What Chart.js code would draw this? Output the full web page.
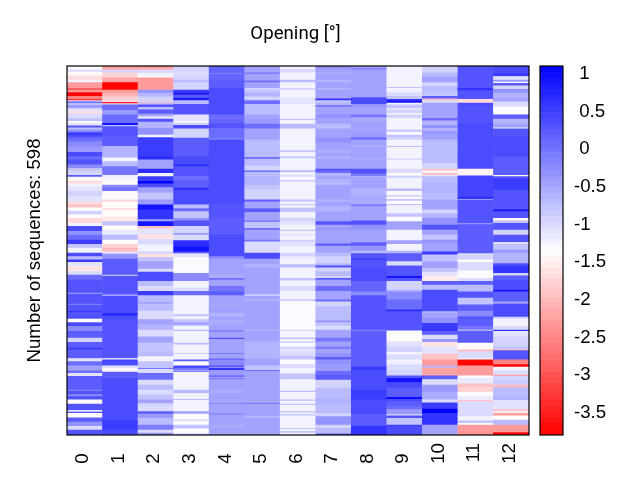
<!DOCTYPE html>
<html>
<head>
<meta charset="utf-8">
<title>Opening</title>
<script src="https://cdn.jsdelivr.net/npm/chart.js@4/dist/chart.umd.js"></script>
<style>
  html, body { margin: 0; background: #fff; }
  canvas { position: absolute; left: 0; top: 0; }
</style>
</head>
<body>
<canvas id="heat" width="640" height="480"></canvas>
<canvas id="bar" width="640" height="480"></canvas>
<script>
// columns of the heatmap
const categories = ['0', '1', '2', '3', '4', '5', '6', '7', '8', '9', '10', '11', '12'];
const sequenceCount = 598;
const colorMin = -3.795;
const colorMax = 1.103;
const colorLevels = 64;
const colorTicks = [1, 0.5, 0, -0.5, -1, -1.5, -2, -2.5, -3, -3.5];

const col0 = [[6,-1.3],[10,-1.0],[16,-1.4],[23,-1.7],[27,-1.2],[37,-2.3],[39,-3.2],[43,-2.3],[49,-3.8],[54,-2.5],[56,-3.3],[58,-1.0],[60,0.2],[64,-0.7],[68,-0.3],[71,-0.9],[74,-1.1],[77,-1.7],[85,-1.0],[90,-0.8],[93,-1.3],[97,-1.1],[100,0.3],[104,-0.7],[108,-0.2],[113,0.5],[117,0.3],[123,0.1],[131,-0.2],[140,-0.4],[147,0.4],[152,0.1],[160,0.3],[166,-0.2],[170,-0.8],[177,-0.9],[180,0.2],[186,-1.3],[191,-1.7],[196,-1.25],[203,-1.05],[212,-0.9],[220,-1.1],[225,-1.7],[230,-1.9],[235,-1.35],[241,-0.9],[247,-1.35],[255,-1.7],[260,-1.2],[268,0.4],[274,-0.3],[282,0.1],[289,0.5],[295,-0.8],[303,-1.25],[309,0.4],[314,-0.7],[318,0.5],[325,-1.1],[333,-1.6],[339,-1.0],[347,0.1],[368,0.3],[370,-0.3],[386,0.3],[388,-0.1],[397,0.3],[399,0.5],[410,0.3],[416,-1.37],[422,0.4],[430,-0.2],[441,0.2],[448,-0.9],[457,0.25],[460,0.5],[474,0.2],[479,-1.1],[486,0.1],[494,-0.5],[498,0.1],[503,-1.1],[525,0.2],[527,-0.2],[533,0.3],[535,-0.5],[541,0.3],[548,-1.37],[558,0.3],[561,-1.1],[563,0.3],[570,-1.37],[577,0.2],[584,-0.3],[590,-1.0],[598,0.3]];
const col1 = [[6,-2.2],[11,-0.9],[19,-1.8],[27,-2.2],[39,-3.8],[44,-2.3],[50,-2.1],[58,-1.8],[59,-1.2],[61,-3.5],[63,-1.1],[72,0.1],[79,-0.4],[93,0.1],[96,0.9],[98,-0.7],[114,0.3],[130,0.25],[149,-0.6],[155,-1.25],[163,-0.7],[177,0.0],[185,-1.2],[193,-1.35],[197,-0.2],[203,0.0],[217,-1.37],[221,-1.7],[231,-1.37],[233,-1.8],[244,-1.37],[252,-1.55],[259,-0.8],[266,-1.37],[274,-1.15],[282,-0.7],[289,-1.37],[295,-1.8],[301,-2.0],[305,-1.1],[313,-0.3],[339,0.2],[341,-0.7],[371,0.3],[373,-0.7],[401,0.35],[406,0.7],[413,0.4],[474,0.3],[476,-1.37],[478,0.6],[486,0.4],[490,-1.1],[496,-1.37],[506,0.2],[541,0.4],[574,0.35],[590,0.5],[598,0.4]];
const col2 = [[6,-2.25],[12,-1.0],[17,-1.2],[19,-1.37],[39,-2.3],[44,-0.3],[50,-0.6],[58,-0.9],[60,-1.9],[63,-0.7],[67,0.3],[71,-0.7],[78,0.2],[82,-0.5],[86,-1.1],[91,0.3],[101,-0.6],[112,-0.3],[116,-1.2],[147,0.5],[152,0.7],[167,-0.5],[174,0.7],[179,-1.2],[187,0.5],[191,1.05],[197,0.4],[206,-0.5],[217,-0.8],[225,-0.4],[233,0.9],[249,0.6],[252,-0.5],[260,0.9],[264,-1.9],[274,-1.1],[281,-1.6],[290,-1.0],[301,-1.2],[305,-0.9],[310,-1.6],[317,-0.8],[329,-0.5],[334,-1.0],[349,0.4],[357,-0.7],[365,-1.0],[372,0.5],[383,-0.7],[386,-0.45],[397,-0.7],[403,-1.0],[411,-1.0],[419,-0.5],[428,-0.6],[439,-1.0],[449,-0.5],[463,-0.8],[471,-0.7],[479,-1.2],[490,-0.8],[491,0.3],[498,-1.0],[509,0.1],[517,-1.0],[525,-0.7],[533,-1.0],[541,-0.8],[547,-0.5],[552,-0.9],[560,-1.0],[564,0.2],[571,-0.4],[582,-0.7],[590,-0.1],[595,-1.0],[598,-0.3]];
const col3 = [[9,-0.9],[16,-1.0],[23,-0.9],[27,-0.7],[39,-0.9],[44,0.5],[47,0.8],[52,0.2],[56,0.8],[62,-0.7],[79,0.3],[90,-1.1],[92,-1.37],[96,-0.9],[102,0.4],[117,-0.9],[147,0.2],[160,0.4],[162,0.8],[179,0.3],[185,0.1],[198,0.2],[201,0.7],[209,0.4],[225,0.4],[231,-0.7],[236,0.1],[247,-0.8],[251,-0.3],[260,0.3],[271,-0.9],[274,-0.4],[283,-1.0],[293,0.7],[301,0.9],[304,0.3],[310,-1.1],[322,-1.3],[336,-1.3],[349,-0.2],[360,-1.25],[365,-1.0],[372,0.1],[403,-1.25],[406,-0.8],[411,-1.25],[416,-0.8],[421,-0.5],[428,-1.25],[430,-0.7],[449,-1.25],[452,-0.7],[466,-1.25],[467,-0.7],[476,-1.25],[479,0.2],[486,-1.3],[490,0.4],[493,0.0],[494,-1.37],[496,0.3],[525,-1.25],[531,-0.7],[540,-1.25],[542,-0.7],[560,-1.25],[564,-0.5],[574,-1.3],[575,-0.7],[582,-1.3],[588,-0.8],[596,-1.35],[598,-0.8]];
const col4 = [[12,0.15],[13,-0.2],[23,0.15],[36,0.2],[60,0.35],[79,0.35],[87,0.05],[93,0.15],[101,0.3],[117,0.1],[120,-0.1],[201,0.4],[223,0.4],[247,0.3],[263,0.25],[274,0.2],[295,0.35],[309,0.4],[313,-0.2],[339,-0.45],[344,-0.55],[347,0.1],[357,-0.45],[366,0.0],[372,0.2],[388,-0.45],[389,-0.6],[401,-0.45],[406,-0.6],[412,-0.45],[420,-0.55],[429,-0.45],[431,0.1],[441,-0.45],[443,0.3],[466,-0.45],[467,0.3],[474,-0.45],[477,0.1],[486,-0.2],[488,0.4],[490,-0.2],[493,0.6],[502,-0.4],[504,0.3],[507,-0.5],[508,0.3],[525,-0.45],[531,-0.55],[547,-0.45],[548,0.1],[564,-0.45],[565,0.3],[582,-0.45],[587,-0.55],[598,-0.45]];
const col5 = [[11,-0.45],[13,0.0],[24,-0.45],[27,0.1],[36,-0.45],[39,-0.9],[43,-0.8],[50,-0.6],[56,-0.9],[62,0.1],[79,-0.7],[86,-0.45],[94,-0.4],[102,0.1],[120,-0.45],[148,-0.7],[151,0.1],[162,-0.7],[170,-0.9],[172,0.2],[179,-0.7],[193,-0.6],[201,-0.8],[217,-0.9],[220,0.2],[231,-0.5],[237,0.2],[251,-0.45],[253,0.1],[263,-0.8],[266,0.1],[282,-0.45],[285,0.0],[303,-1.0],[313,0.4],[322,-0.45],[327,-0.6],[371,-0.45],[373,-1.0],[379,-0.45],[381,-0.7],[428,-0.45],[429,-0.7],[447,-0.45],[474,-0.6],[486,-0.5],[493,-0.8],[495,0.1],[547,-0.45],[548,0.3],[568,-0.45],[570,-0.7],[587,-0.45],[598,-0.5]];
const col6 = [[5,-1.25],[11,-1.0],[23,-1.25],[27,-0.7],[36,-1.25],[39,-0.9],[52,-1.25],[62,-1.05],[86,-1.25],[88,-0.8],[94,-1.25],[102,-0.7],[137,-1.25],[140,-0.8],[147,-1.25],[150,-0.8],[170,-1.25],[172,-0.5],[177,-1.25],[180,-1.0],[185,-1.3],[188,-0.9],[217,-1.25],[220,-0.8],[224,-1.25],[227,-0.9],[230,-1.3],[237,-0.8],[247,-1.25],[252,-0.9],[258,-1.1],[266,-1.25],[268,-0.8],[274,-1.25],[275,-0.7],[282,-1.25],[286,-0.9],[293,-1.1],[303,-1.25],[309,-0.9],[314,-1.15],[322,-1.25],[327,-0.7],[344,-1.25],[348,-0.8],[357,-1.25],[365,-1.0],[379,-1.25],[381,-0.7],[428,-1.28],[429,-0.8],[441,-1.25],[443,-0.7],[447,-1.25],[449,-0.8],[455,-1.3],[460,-0.9],[462,-1.25],[470,-1.0],[476,-0.8],[484,-1.3],[490,-1.0],[499,-1.25],[508,-0.8],[527,-1.25],[529,-0.7],[541,-1.25],[543,-0.7],[548,-1.25],[550,-0.8],[560,-1.25],[562,-0.7],[565,-1.25],[567,-0.7],[587,-1.25],[589,-0.8],[592,-1.25],[595,-0.8],[598,-1.25]];
const col7 = [[5,-0.3],[11,-0.45],[13,-0.6],[23,-0.45],[27,-0.6],[36,-0.45],[39,-0.6],[53,-0.45],[56,0.6],[60,-0.8],[64,-0.6],[66,0.2],[79,-0.45],[85,-0.3],[94,-0.45],[102,-0.7],[117,-0.45],[125,-0.35],[137,-0.45],[141,-0.55],[147,-0.45],[151,-0.6],[167,-0.45],[170,0.3],[174,0.1],[179,-0.6],[184,-0.45],[190,-0.6],[193,-0.7],[217,-0.45],[220,-0.6],[228,-0.45],[236,-0.65],[252,-0.45],[258,0.3],[263,-0.5],[266,-0.3],[288,-0.45],[292,0.2],[303,-0.45],[309,-0.7],[320,-0.9],[324,-0.6],[327,0.3],[333,-0.9],[341,-0.7],[344,-0.9],[347,0.2],[349,-0.5],[357,-0.45],[365,0.1],[379,-0.45],[382,0.1],[390,-0.9],[403,-0.7],[413,-0.7],[416,-0.3],[422,-0.8],[428,-1.0],[441,-0.45],[447,0.0],[455,-0.45],[459,-0.1],[466,-0.45],[472,-0.3],[476,0.2],[484,-0.3],[495,-0.4],[501,0.1],[509,0.2],[522,-0.9],[538,-0.7],[549,-0.6],[563,-0.7],[568,-0.9],[582,-0.3],[587,-0.9],[596,-0.7],[598,0.2]];
const col8 = [[4,-0.45],[6,0.0],[36,-0.45],[51,-0.5],[62,0.35],[66,-0.35],[79,-0.45],[83,0.0],[87,-0.45],[89,-0.6],[104,-0.45],[109,-0.5],[116,-0.4],[120,0.1],[130,-0.45],[132,-0.6],[151,-0.45],[152,-0.6],[167,-0.45],[175,0.3],[179,-0.1],[181,-0.6],[199,-0.45],[209,-0.6],[225,-0.55],[227,0.1],[251,-0.45],[258,0.3],[266,-0.3],[286,-0.45],[292,0.2],[300,-0.3],[304,-0.7],[313,0.3],[314,0.7],[328,0.3],[349,0.4],[366,0.15],[372,-0.2],[428,0.33],[430,-0.1],[487,0.2],[493,0.5],[525,0.4],[541,0.5],[565,0.35],[582,0.2],[584,0.3],[598,0.6]];
const col9 = [[35,-1.25],[36,-0.6],[43,-1.25],[49,-1.0],[54,-0.8],[57,0.6],[60,0.9],[63,-1.2],[69,-0.8],[71,-1.2],[77,-0.9],[79,-1.3],[85,-0.9],[104,-1.25],[107,-0.8],[112,-1.3],[116,-0.8],[120,-0.9],[130,-1.25],[132,-0.7],[151,-1.25],[152,-0.7],[167,-1.25],[174,-1.0],[178,-1.4],[182,-0.9],[199,-1.25],[203,-0.7],[209,-1.3],[213,-1.0],[216,-1.3],[219,-0.8],[224,-1.3],[226,-0.8],[239,-1.25],[245,-0.8],[252,-1.3],[266,-0.5],[283,-1.25],[289,-0.5],[300,-1.25],[304,-0.6],[317,0.25],[324,-1.0],[341,0.3],[344,0.9],[349,0.3],[363,-0.9],[366,-0.6],[379,-0.2],[395,0.1],[398,0.7],[429,0.3],[436,-1.3],[447,-1.35],[455,-1.05],[464,-0.95],[468,-1.2],[476,-1.0],[484,-1.25],[493,-1.0],[502,-0.95],[506,0.3],[513,0.9],[522,0.4],[537,0.2],[540,1.0],[544,0.4],[552,0.2],[557,0.1],[565,-0.4],[567,-1.0],[571,0.3],[582,-0.8],[584,0.5],[598,0.4]];
const col10 = [[11,-0.9],[17,-0.7],[27,-0.45],[33,-0.9],[42,-0.7],[49,-0.8],[53,0.2],[56,-2.0],[60,-1.0],[85,-0.45],[89,0.1],[96,-0.6],[101,-0.3],[106,-0.6],[112,-0.4],[120,-0.45],[151,-0.7],[158,-0.7],[167,-0.9],[170,-1.9],[174,-1.2],[177,-2.0],[179,-1.1],[189,-0.7],[206,-0.6],[217,-0.7],[233,-0.45],[239,-0.9],[247,-0.6],[258,-0.3],[266,0.3],[274,-0.45],[282,-0.8],[287,-0.3],[301,-0.45],[306,0.5],[317,-0.8],[328,-0.5],[334,-0.8],[341,-1.1],[349,-1.5],[355,0.2],[363,-0.7],[379,0.4],[398,0.35],[401,-0.6],[409,-0.45],[417,-0.3],[428,0.5],[429,0.9],[436,0.2],[443,-1.0],[448,-0.4],[455,-1.6],[467,-1.1],[476,-1.9],[486,-2.3],[489,-0.6],[502,-2.2],[508,0.2],[517,-1.0],[529,-0.4],[541,-0.55],[546,-1.0],[556,0.5],[563,1.05],[582,0.6],[598,-0.45]];
const col11 = [[36,0.3],[40,0.6],[54,0.3],[60,-1.7],[66,0.4],[93,0.3],[125,0.4],[152,0.4],[167,0.35],[178,-1.45],[212,0.45],[216,0.6],[217,-1.0],[255,0.3],[257,-0.3],[301,0.25],[304,0.2],[307,-1.0],[314,-0.9],[318,-1.4],[332,-1.0],[344,-1.3],[349,-1.0],[355,0.2],[366,-0.7],[376,0.3],[387,-0.8],[397,0.2],[406,-0.2],[410,0.3],[422,0.2],[428,0.0],[429,-1.37],[449,0.2],[460,-1.35],[463,-2.0],[474,-1.0],[476,-1.3],[486,-3.8],[502,-2.3],[506,-1.3],[515,-1.15],[521,-1.9],[529,-1.75],[536,-1.3],[542,-1.15],[544,-1.9],[568,-1.0],[575,-1.2],[579,-0.8],[582,-1.3],[592,-2.3],[598,-2.4]];
const col12 = [[12,0.4],[17,0.5],[23,-1.1],[26,-0.4],[28,-1.3],[32,0.2],[38,-0.9],[44,-0.3],[52,-0.6],[58,-0.5],[66,-1.0],[79,-1.3],[86,0.2],[94,-0.6],[100,-0.5],[102,-1.2],[114,0.3],[147,0.4],[177,0.25],[179,-1.37],[183,0.3],[201,0.5],[233,0.3],[236,0.9],[247,0.3],[251,-1.35],[255,-0.8],[266,0.3],[274,-0.9],[286,0.3],[288,-1.3],[298,-0.8],[303,-0.4],[320,-0.6],[325,0.4],[336,0.6],[340,-0.9],[347,0.2],[363,0.4],[366,0.9],[382,0.2],[386,-0.5],[407,0.4],[410,-0.9],[422,-1.2],[428,-1.0],[430,0.6],[439,-1.1],[455,-0.9],[459,-0.8],[461,-2.0],[476,0.3],[484,-2.5],[488,-3.8],[494,-1.2],[501,-1.0],[503,-2.2],[510,-0.9],[517,-0.85],[521,-2.0],[536,-0.7],[542,-0.6],[557,-1.1],[560,-1.9],[563,-1.2],[567,-2.3],[574,-1.4],[582,-0.7],[594,-2.3],[598,-3.8]];

const columns = [col0, col1, col2, col3, col4, col5, col6, col7, col8, col9, col10, col11, col12];

// blue - white - red palette, stepped like the colorbar of the original
function levelColor(level) {
  const t = (level + 0.5) / colorLevels;
  if (t <= 0.5) {
    const s = Math.round(510 * t);
    return 'rgb(' + s + ',' + s + ',255)';
  }
  const s = Math.round(510 * (1 - t));
  return 'rgb(255,' + s + ',' + s + ')';
}

function valueColor(v) {
  const t = (colorMax - v) / (colorMax - colorMin);
  return levelColor(Math.min(colorLevels - 1, Math.max(0, Math.floor(t * colorLevels))));
}

// box round the plot area
const frame = {
  id: 'frame',
  afterDraw(chart) {
    const a = chart.chartArea, c = chart.ctx;
    c.save();
    c.strokeStyle = '#000';
    c.lineWidth = 1.2;
    c.strokeRect(a.left, a.top, a.right - a.left, a.bottom - a.top);
    c.restore();
  }
};

// the title sits a little left of the middle of the plot
const titleNudge = {
  id: 'titleNudge',
  afterLayout(chart) {
    chart.titleBlock.left -= 2.5;
    chart.titleBlock.right -= 2.5;
  }
};

const bands = [];
const bandColors = [];
columns.forEach((col, i) => {
  let start = 0;
  col.forEach(([end, value]) => {
    bands.push({ x: categories[i], y: [start, end] });
    bandColors.push(valueColor(value));
    start = end;
  });
});

new Chart(document.getElementById('heat'), {
  type: 'bar',
  data: {
    labels: categories,
    datasets: [{
      data: bands,
      backgroundColor: bandColors,
      borderWidth: 0,
      barPercentage: 1,
      categoryPercentage: 1
    }]
  },
  plugins: [frame, titleNudge],
  options: {
    responsive: false,
    animation: false,
    layout: { padding: { right: 111, left: 0, top: 0, bottom: 0 } },
    plugins: {
      legend: { display: false },
      tooltip: { enabled: false },
      title: {
        display: true,
        text: 'Opening [°]',
        fullSize: false,
        color: '#000',
        font: { family: 'Roboto', size: 18.67, weight: 'normal' },
        padding: { top: 23.5, bottom: 20.1 }
      }
    },
    scales: {
      x: {
        type: 'category',
        grid: { display: false, drawTicks: false },
        border: { display: false },
        afterFit(s) { s.height = 45; },
        ticks: {
          color: '#000',
          font: { family: 'Liberation Sans', size: 18.67 },
          minRotation: 90,
          maxRotation: 90,
          padding: 8,
          labelOffset: -1.5,
          // labels start at the same height, so short ones get a digit's width of space
          callback(v) {
            const t = this.getLabelForValue(v);
            return t.length === 1 ? t + '  ' : t;
          }
        }
      },
      y: {
        type: 'linear',
        reverse: true,
        min: 0,
        max: sequenceCount,
        grid: { display: false, drawTicks: false },
        border: { display: false },
        ticks: { display: false },
        afterFit(s) { s.width = 67; },
        title: {
          display: true,
          text: 'Number of sequences: ' + sequenceCount,
          color: '#000',
          font: { family: 'Liberation Sans', size: 18.67 },
          padding: { top: 24, bottom: 0 }
        }
      }
    }
  }
});

new Chart(document.getElementById('bar'), {
  type: 'bar',
  data: {
    labels: ['Opening'],
    datasets: [{
      data: [[colorMin, colorMax]],
      borderWidth: 0,
      barPercentage: 1,
      categoryPercentage: 1,
      backgroundColor(ctx) {
        const a = ctx.chart.chartArea;
        if (!a) return '#fff';
        const g = ctx.chart.ctx.createLinearGradient(0, a.top, 0, a.bottom);
        for (let i = 0; i < colorLevels; i++) {
          g.addColorStop(i / colorLevels, levelColor(i));
          g.addColorStop((i + 1) / colorLevels, levelColor(i));
        }
        return g;
      }
    }]
  },
  plugins: [frame],
  options: {
    responsive: false,
    animation: false,
    layout: { padding: { left: 540, top: 66, bottom: 45, right: 0 } },
    plugins: { legend: { display: false }, tooltip: { enabled: false } },
    scales: {
      x: { display: false },
      y: {
        position: 'right',
        min: colorMin,
        max: colorMax,
        grid: { display: false, drawTicks: false },
        border: { display: false },
        afterFit(s) { s.width = 77; },
        afterBuildTicks(s) { s.ticks = colorTicks.map(v => ({ value: v })); },
        ticks: {
          color: '#000',
          autoSkip: false,
          padding: 11,
          font: { family: 'Liberation Sans', size: 18.67 },
          // the minus sign hangs out to the left of the digits
          callback: v => (v < 0 ? String(v) : ' ' + v)
        }
      }
    }
  }
});
</script>
</body>
</html>
